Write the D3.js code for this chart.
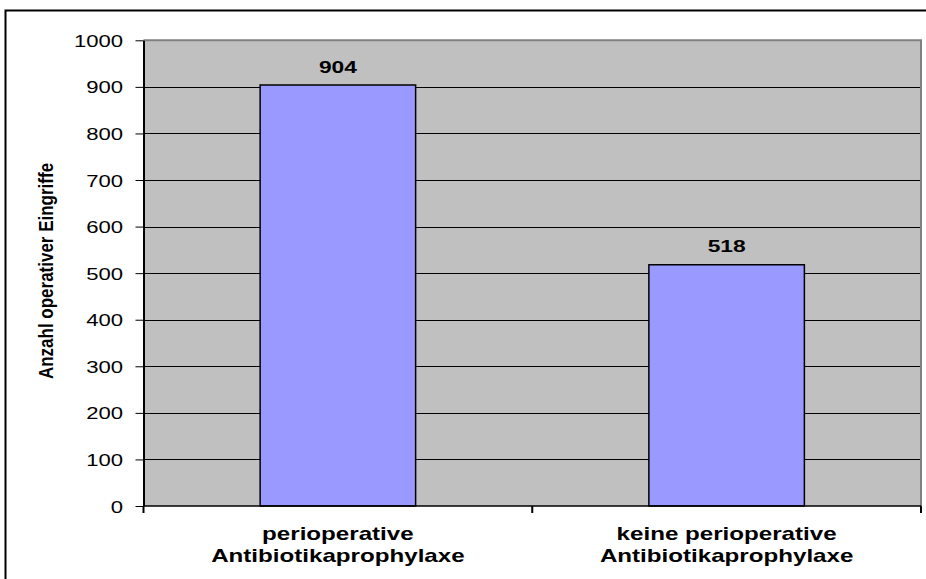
<!DOCTYPE html>
<html>
<head>
<meta charset="utf-8">
<script src="https://cdn.jsdelivr.net/npm/d3@7"></script>
<style>
  html, body { margin: 0; padding: 0; background: #ffffff; }
  svg { display: block; }
  text { font-family: "Liberation Sans", Arial, sans-serif; fill: #000; }
</style>
</head>
<body>
<svg id="chart" width="926" height="579"></svg>
<script>
// Category labels (two lines each), values and y-axis ticks
const categories = ["perioperative Antibiotikaprophylaxe", "keine perioperative Antibiotikaprophylaxe"];
const categoryLines = [["perioperative", "Antibiotikaprophylaxe"], ["keine perioperative", "Antibiotikaprophylaxe"]];
const values = [904, 518];
const yTicks = [0, 100, 200, 300, 400, 500, 600, 700, 800, 900, 1000];
const yTitle = "Anzahl operativer Eingriffe";

const svg = d3.select("#chart");
const W = 926, H = 579;
const plot = { left: 143.5, right: 921, top: 40.3, bottom: 506 };
const sx = 1.38; // horizontal stretch of the lettering

// Outer frame
svg.append("rect")
  .attr("x", 5.5).attr("y", 10.5)
  .attr("width", W + 20).attr("height", H + 20)
  .attr("fill", "#fff").attr("stroke", "#000").attr("stroke-width", 2);

const x = d3.scaleBand()
  .domain(categories)
  .range([plot.left, plot.right])
  .paddingInner(0.6)
  .paddingOuter(0.3);

const y = d3.scaleLinear()
  .domain([0, 1000])
  .range([plot.bottom, plot.top]);

// Plot area background
svg.append("rect")
  .attr("x", plot.left).attr("y", plot.top)
  .attr("width", plot.right - plot.left).attr("height", plot.bottom - plot.top)
  .attr("fill", "#c0c0c0");

// Horizontal gridlines
svg.append("g")
  .selectAll("line")
  .data(yTicks.filter(d => d > 0 && d < 1000))
  .join("line")
  .attr("x1", plot.left).attr("x2", plot.right)
  .attr("y1", d => Math.round(y(d)) + 0.5).attr("y2", d => Math.round(y(d)) + 0.5)
  .attr("stroke", "#000").attr("stroke-width", 1);

// Plot area border (top and right in grey)
svg.append("path")
  .attr("d", `M${plot.left},${plot.top} H${plot.right} V${plot.bottom}`)
  .attr("fill", "none").attr("stroke", "#808080").attr("stroke-width", 2);

// Bars
svg.append("g")
  .selectAll("rect")
  .data(values)
  .join("rect")
  .attr("x", (d, i) => x(categories[i]))
  .attr("y", d => y(d))
  .attr("width", x.bandwidth())
  .attr("height", d => y(0) - y(d))
  .attr("fill", "#9999ff")
  .attr("stroke", "#000")
  .attr("stroke-width", 1.5);

// Value labels
svg.append("g")
  .selectAll("text")
  .data(values)
  .join("text")
  .attr("transform", (d, i) => `translate(${x(categories[i]) + x.bandwidth() / 2},${y(d) - 12.5}) scale(${sx},1)`)
  .attr("text-anchor", "middle")
  .style("font-size", "16.5px")
  .style("font-weight", "bold")
  .text(d => d);

// Y axis
const yAxis = svg.append("g")
  .attr("transform", `translate(${plot.left},0)`)
  .call(d3.axisLeft(y).tickValues(yTicks).tickSize(8).tickSizeOuter(0).tickFormat(d3.format("d")));
yAxis.select(".domain").attr("stroke", "#000").attr("stroke-width", 2);
yAxis.selectAll(".tick line").attr("stroke", "#000").attr("stroke-width", 1);
yAxis.selectAll(".tick text")
  .attr("x", null).attr("dy", null)
  .attr("transform", `translate(-20.5,6) scale(${sx},1)`)
  .attr("text-anchor", "end")
  .attr("fill", "#000")
  .style("font-size", "16px")
  .style("font-family", "'Liberation Sans', Arial, sans-serif");

// X axis: baseline plus ticks at the category boundaries
const xAxis = svg.append("g");
xAxis.append("line")
  .attr("x1", plot.left).attr("x2", plot.right)
  .attr("y1", plot.bottom).attr("y2", plot.bottom)
  .attr("stroke", "#000").attr("stroke-width", 1.5);
const step = x.step();
const boundaries = [plot.left, ...categories.slice(1).map(c => x(c) - step * x.paddingInner() / 2), plot.right];
xAxis.selectAll("line.tick")
  .data(boundaries)
  .join("line")
  .attr("class", "tick")
  .attr("x1", d => d).attr("x2", d => d)
  .attr("y1", plot.bottom).attr("y2", plot.bottom + 7)
  .attr("stroke", "#000").attr("stroke-width", 2);

// Category labels
const catG = svg.append("g");
categoryLines.forEach((lines, i) => {
  const cx = x(categories[i]) + x.bandwidth() / 2;
  lines.forEach((line, j) => {
    catG.append("text")
      .attr("transform", `translate(${cx},${540 + j * 22}) scale(${sx},1)`)
      .attr("text-anchor", "middle")
      .style("font-size", "17.5px")
      .style("font-weight", "bold")
      .text(line);
  });
});

// Y axis title
svg.append("text")
  .attr("transform", `translate(53,271) rotate(-90) scale(1,1.2)`)
  .attr("text-anchor", "middle")
  .style("font-size", "17px")
  .style("font-weight", "bold")
  .text(yTitle);
</script>
</body>
</html>
